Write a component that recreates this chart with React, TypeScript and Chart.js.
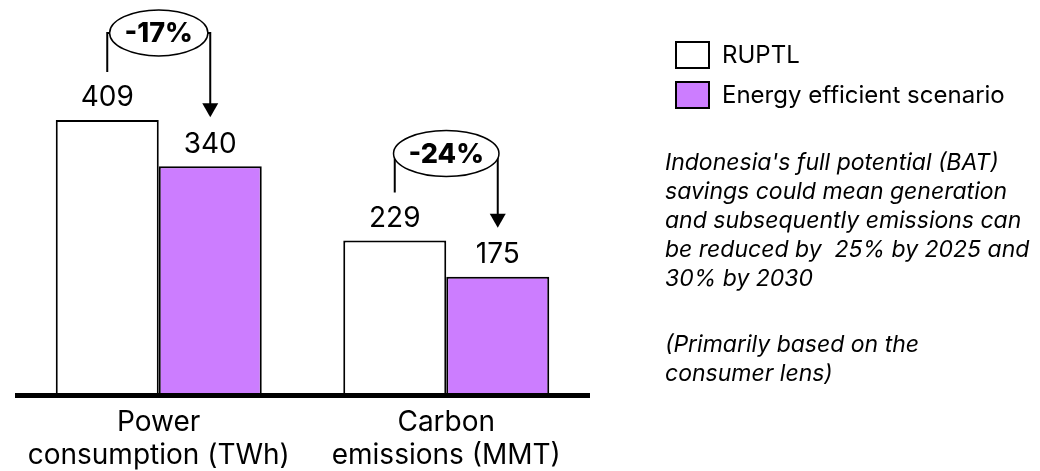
import React, { useEffect, useRef } from "react";
import { Chart, registerables } from "chart.js";
Chart.register(...registerables);

const categoryLines = [
  ["Power", "consumption (TWh)"],
  ["Carbon", "emissions (MMT)"],
];
const categories = ["Power consumption (TWh)", "Carbon emissions (MMT)"];
const seriesNames = ["RUPTL", "Energy efficient scenario"];
const ruptlValues = [409, 229];
const efficientValues = [340, 175];
const changeLabels = ["-17%", "-24%"];
const noteLines = [
  "Indonesia's full potential (BAT)",
  "savings could mean generation",
  "and subsequently emissions can",
  "be reduced by  25% by 2025 and",
  "30% by 2030",
];
const noteLines2 = ["(Primarily based on the", "consumer lens)"];

const FONT = "Inter, 'Open Sans', Roboto, sans-serif";
const PURPLE = "#cc7dff";

const overlayPlugin = {
  id: "overlay",
  afterDatasetsDraw(chart: any) {
    const ctx = chart.ctx as CanvasRenderingContext2D;
    const area = chart.chartArea;
    const y = chart.scales.y;
    const x = chart.scales.x;
    const y0 = y.getPixelForValue(0);
    ctx.save();
    // baseline
    ctx.fillStyle = "#000";
    ctx.fillRect(area.left, y0 - 1, area.right - area.left, 5);

    // value labels
    ctx.font = `28px ${FONT}`;
    ctx.textAlign = "center";
    ctx.textBaseline = "middle";
    chart.data.datasets.forEach((ds: any, di: number) => {
      const meta = chart.getDatasetMeta(di);
      meta.data.forEach((el: any, i: number) => {
        ctx.fillText(String(ds.data[i]), el.x, el.y - 22);
      });
    });

    // change annotations
    const m0 = chart.getDatasetMeta(0);
    const m1 = chart.getDatasetMeta(1);
    changeLabels.forEach((lab, i) => {
      const a = m0.data[i];
      const b = m1.data[i];
      const cx = (a.x + b.x) / 2;
      const cy = a.y - 87;
      ctx.font = `800 27px ${FONT}`;
      const tw = ctx.measureText(lab).width;
      const rx = tw / 2 + 15;
      const ry = 23;
      ctx.strokeStyle = "#000";
      ctx.lineWidth = 2;
      ctx.beginPath();
      ctx.moveTo(a.x, a.y - 48);
      ctx.lineTo(a.x, cy);
      ctx.lineTo(cx - rx, cy);
      ctx.stroke();
      const tipY = b.y - 49;
      ctx.beginPath();
      ctx.moveTo(cx + rx, cy);
      ctx.lineTo(b.x, cy);
      ctx.lineTo(b.x, tipY - 12);
      ctx.stroke();
      ctx.fillStyle = "#000";
      ctx.beginPath();
      ctx.moveTo(b.x - 8, tipY - 14);
      ctx.lineTo(b.x + 8, tipY - 14);
      ctx.lineTo(b.x, tipY);
      ctx.closePath();
      ctx.fill();
      ctx.beginPath();
      ctx.ellipse(cx, cy, rx, ry, 0, 0, Math.PI * 2);
      ctx.fillStyle = "#fff";
      ctx.fill();
      ctx.lineWidth = 1.5;
      ctx.stroke();
      ctx.fillStyle = "#000";
      ctx.fillText(lab, cx, cy + 1);
    });

    // category labels
    ctx.font = `28px ${FONT}`;
    ctx.textBaseline = "alphabetic";
    categoryLines.forEach((lines, i) => {
      const px = x.getPixelForValue(i);
      lines.forEach((t, k) => {
        ctx.fillText(t, px, 431 + k * 33);
      });
    });

    // legend
    const legendColors = ["#ffffff", PURPLE];
    ctx.textAlign = "left";
    ctx.textBaseline = "middle";
    ctx.font = `24px ${FONT}`;
    seriesNames.forEach((name, i) => {
      const by = 42 + i * 40;
      ctx.fillStyle = legendColors[i];
      ctx.fillRect(676, by, 33, 26);
      ctx.strokeStyle = "#000";
      ctx.lineWidth = 2;
      ctx.strokeRect(676, by, 33, 26);
      ctx.fillStyle = "#000";
      ctx.fillText(name, 722, by + 14);
    });

    // notes
    ctx.font = `italic 23px ${FONT}`;
    noteLines.forEach((t, k) => ctx.fillText(t, 665, 163 + k * 29));
    noteLines2.forEach((t, k) => ctx.fillText(t, 665, 345 + k * 29));
    ctx.restore();
  },
};

export default function App() {
  const ref = useRef<HTMLCanvasElement>(null);
  useEffect(() => {
    if (!ref.current) return;
    const chart = new Chart(ref.current, {
      type: "bar",
      data: {
        labels: categories,
        datasets: [
          {
            label: seriesNames[0],
            data: ruptlValues,
            backgroundColor: "#ffffff",
            borderColor: "#000",
            borderWidth: 2,
          },
          {
            label: seriesNames[1],
            data: efficientValues,
            backgroundColor: PURPLE,
            borderColor: "#000",
            borderWidth: 2,
          },
        ],
      },
      options: {
        responsive: false,
        animation: false,
        devicePixelRatio: 1,
        layout: { padding: { left: 15, right: 450, top: 4, bottom: 77 } },
        datasets: { bar: { barPercentage: 1, categoryPercentage: 0.7165 } },
        scales: {
          x: { display: false },
          y: { display: false, min: 0, max: 582 },
        },
        plugins: { legend: { display: false }, tooltip: { enabled: false } },
      },
      plugins: [overlayPlugin],
    });
    return () => chart.destroy();
  }, []);
  return (
    <div style={{ position: "absolute", left: 0, top: 0, width: 1040, height: 471, background: "#fff" }}>
      <canvas ref={ref} width={1040} height={471} />
    </div>
  );
}
